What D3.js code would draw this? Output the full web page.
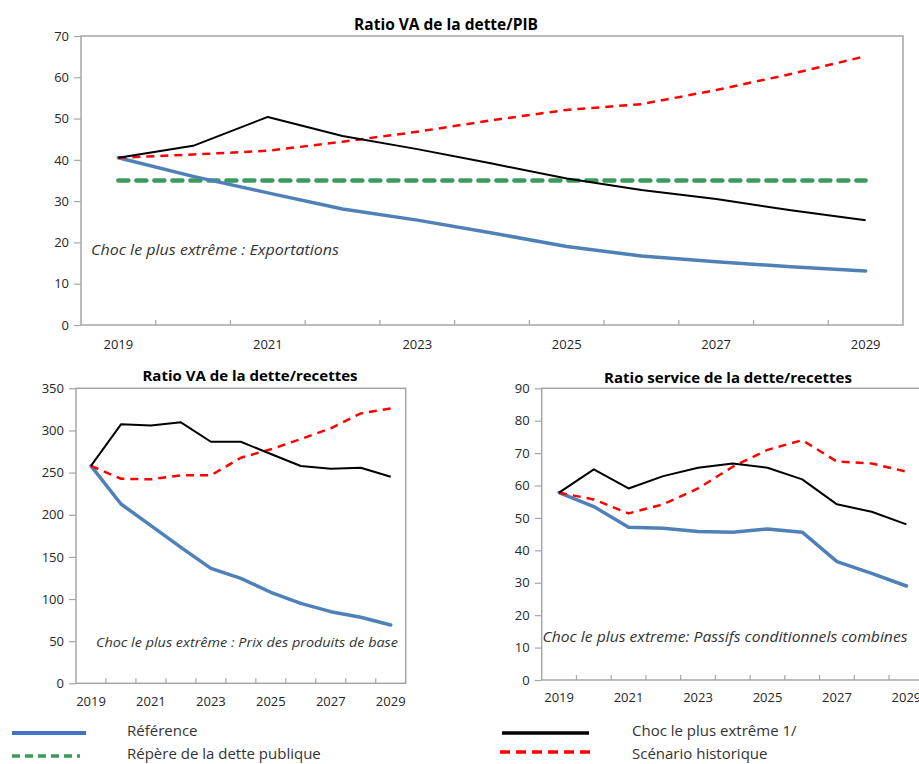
<!DOCTYPE html>
<html><head><meta charset="utf-8">
<script src="https://cdn.jsdelivr.net/npm/d3@7"></script>
<style>
body{margin:0;background:#fff;}
svg{display:block;font-family:"Open Sans","Noto Sans",sans-serif;}
</style></head>
<body><svg id="c" width="919" height="764"></svg>
<script>
const years = [2019,2020,2021,2022,2023,2024,2025,2026,2027,2028,2029];
const yearLabels = [2019,2021,2023,2025,2027,2029];

// Chart 1 : Ratio VA de la dette/PIB
const pibRef     = [40.5,36.0,32.0,28.1,25.4,22.3,19.0,16.7,15.3,14.1,13.1];
const pibChoc    = [40.5,43.4,50.4,45.8,42.6,39.1,35.5,32.7,30.5,27.8,25.4];
const pibHist    = [40.5,41.3,42.2,44.4,46.8,49.6,52.1,53.5,56.9,60.8,65.1];
const pibRepere  = [35,35,35,35,35,35,35,35,35,35,35];
const pibTicks   = [0,10,20,30,40,50,60,70];

// Chart 2 : Ratio VA de la dette/recettes
const recRef  = [258,212.7,187,161.3,136.4,124.5,108,94.9,85,78.3,69.2];
const recChoc = [258,307.2,306,309.6,286.6,286.6,272,257.8,254.6,255.8,245];
const recHist = [258,242.7,242,246.7,246.7,267.6,277.6,289.8,302.5,320.2,326];
const recTicks = [0,50,100,150,200,250,300,350];

// Chart 3 : Ratio service de la dette/recettes
const svcRef  = [57.8,53.5,47.1,46.8,45.8,45.6,46.6,45.6,36.5,32.9,29.0];
const svcChoc = [57.8,65.0,59.1,62.9,65.5,66.8,65.5,61.9,54.2,51.9,48.0];
const svcHist = [57.8,55.7,51.4,54.2,59.1,65.8,71.0,74.0,67.4,66.8,64.3];
const svcTicks = [0,10,20,30,40,50,60,70,80,90];

const legendItems = ["Référence","Répère de la dette publique","Choc le plus extrême 1/","Scénario historique"];

const svg = d3.select("#c");
const styles = {
  ref:  {stroke:"#4f81b8", width:3.5, dash:null, cap:"round"},
  rep:  {stroke:"#3a9b5c", width:4.5, dash:"10,8", cap:"round"},
  choc: {stroke:"#000000", width:2, dash:null, cap:"butt"},
  hist: {stroke:"#ff0000", width:2.5, dash:"8,6", cap:"butt"}
};

function chart(o){
  const g = svg.append("g");
  const x = d3.scaleBand().domain(years).range([o.left,o.right]);
  const y = d3.scaleLinear().domain([0,o.max]).range([o.bottom,o.top]);
  g.append("rect").attr("x",o.left).attr("y",o.top)
    .attr("width",o.right-o.left).attr("height",o.bottom-o.top)
    .attr("fill","none").attr("stroke","#a6a6a6").attr("stroke-width",1.5);
  const ya = g.append("g").attr("transform",`translate(${o.left},0)`)
    .call(d3.axisLeft(y).tickValues(o.ticks).tickSize(7).tickSizeOuter(0).tickPadding(5));
  ya.select(".domain").remove();
  ya.selectAll("line").attr("stroke","#a6a6a6").attr("stroke-width",1.2);
  ya.selectAll("text").attr("font-size",o.fs).attr("fill","#262626").attr("font-family","'Open Sans',sans-serif");
  const edges = years.slice(1).map(d=>x(d));
  g.selectAll("line.xt").data(edges).enter().append("line")
    .attr("x1",d=>d).attr("x2",d=>d).attr("y1",o.bottom).attr("y2",o.bottom-5)
    .attr("stroke","#a6a6a6").attr("stroke-width",1.2);
  const xa = g.append("g").attr("transform",`translate(0,${o.bottom})`)
    .call(d3.axisBottom(x).tickValues(yearLabels).tickSize(0).tickPadding(o.xpad));
  xa.select(".domain").remove();
  xa.selectAll("text").attr("font-size",o.fs).attr("fill","#262626").attr("font-family","'Open Sans',sans-serif");
  g.append("text").attr("x",o.tx).attr("y",o.ty).attr("text-anchor","middle")
    .attr("font-weight","bold").attr("font-size",o.tfs).attr("fill","#000").text(o.title);
  g.append("text").attr("x",o.ax).attr("y",o.ay).attr("font-style","italic")
    .attr("font-size",o.afs).attr("fill","#333").attr("textLength",o.aw).attr("lengthAdjust","spacingAndGlyphs").text(o.ann);
  const line = d3.line().x((d,i)=>x(years[i])+x.bandwidth()/2).y(d=>y(d));
  o.series.forEach(s=>{
    const st = styles[s.k];
    g.append("path").datum(s.v).attr("d",line).attr("fill","none")
      .attr("stroke",st.stroke).attr("stroke-width",st.width)
      .attr("stroke-dasharray",st.dash).attr("stroke-linecap",st.cap).attr("stroke-linejoin","round");
  });
}

chart({left:81,right:903,top:36,bottom:325,max:70,ticks:pibTicks,fs:13,xpad:15,
  title:"Ratio VA de la dette/PIB",tx:446,ty:30,tfs:15.5,
  ann:"Choc le plus extrême : Exportations",ax:91,ay:255,afs:15,aw:248,
  series:[{k:"rep",v:pibRepere},{k:"ref",v:pibRef},{k:"hist",v:pibHist},{k:"choc",v:pibChoc}]});

chart({left:76,right:405.7,top:388.3,bottom:683.3,max:350,ticks:recTicks,fs:13,xpad:13,
  title:"Ratio VA de la dette/recettes",tx:250,ty:381,tfs:15,
  ann:"Choc le plus extrême : Prix des produits de base",ax:96,ay:647,afs:13.5,aw:302,
  series:[{k:"ref",v:recRef},{k:"hist",v:recHist},{k:"choc",v:recChoc}]});

chart({left:541.7,right:923.8,top:388.3,bottom:680,max:90,ticks:svcTicks,fs:13,xpad:13,
  title:"Ratio service de la dette/recettes",tx:728,ty:383,tfs:15,
  ann:"Choc le plus extreme: Passifs conditionnels combines",ax:542.5,ay:642,afs:15,aw:365,
  series:[{k:"ref",v:svcRef},{k:"hist",v:svcHist},{k:"choc",v:svcChoc}]});

const leg = [
  {x1:12,x2:86,y:733,ty:736,lx:127,t:legendItems[0],c:"#4472c4",w:4,d:null},
  {x1:12,x2:80,y:756,ty:759,lx:127,t:legendItems[1],c:"#3a9b5c",w:3.5,d:"8,5"},
  {x1:502,x2:589,y:733,ty:736,lx:632,t:legendItems[2],c:"#000",w:3.5,d:null},
  {x1:500,x2:590,y:752,ty:759,lx:632,t:legendItems[3],c:"#ff0000",w:3.5,d:"10,6"}
];
const lg = svg.append("g");
lg.selectAll("line").data(leg).enter().append("line")
  .attr("x1",d=>d.x1).attr("x2",d=>d.x2).attr("y1",d=>d.y).attr("y2",d=>d.y)
  .attr("stroke",d=>d.c).attr("stroke-width",d=>d.w).attr("stroke-dasharray",d=>d.d);
lg.selectAll("text").data(leg).enter().append("text")
  .attr("x",d=>d.lx).attr("y",d=>d.ty).attr("font-size",15).attr("fill","#333").text(d=>d.t);
</script></body></html>
